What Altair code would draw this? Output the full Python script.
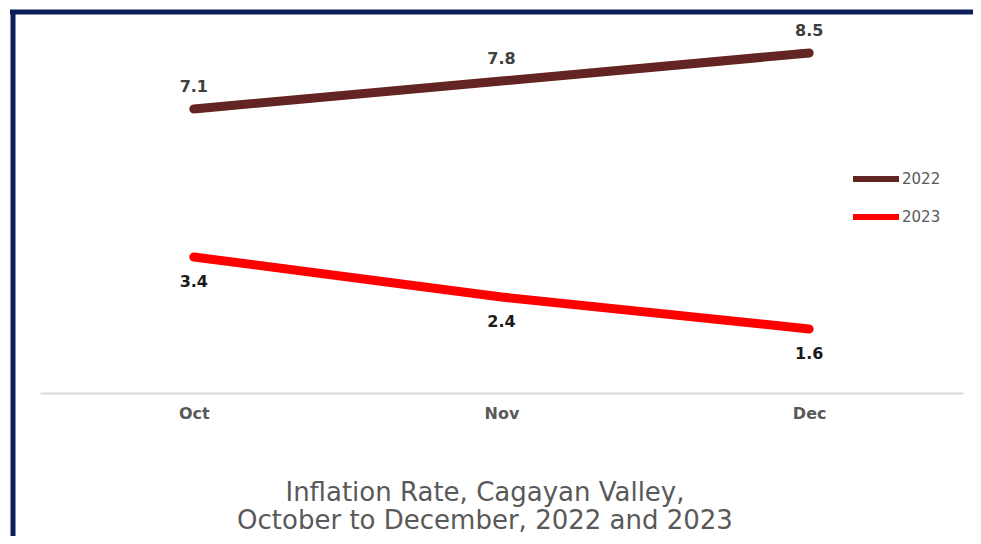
import altair as alt
import pandas as pd

months = ["Oct", "Nov", "Dec"]
series_2022 = [7.1, 7.8, 8.5]
series_2023 = [3.4, 2.4, 1.6]
years = ["2022", "2023"]
colors = ["#632523", "#FF0000"]
title_lines = ["Inflation Rate, Cagayan Valley,", "October to December, 2022 and 2023"]

rows = []
for m, v in zip(months, series_2022):
    rows.append({"month": m, "year": "2022", "value": v, "label": f"{v:.1f}"})
for m, v in zip(months, series_2023):
    rows.append({"month": m, "year": "2023", "value": v, "label": f"{v:.1f}"})
df = pd.DataFrame(rows)

FONT = "DejaVu Sans"

x = alt.X("month:N", sort=months, title=None,
          scale=alt.Scale(type="point", padding=0.5),
          axis=alt.Axis(labelAngle=0, ticks=False, domainColor="#D9D9D9",
                        domainWidth=2, labelFontSize=16, labelFontWeight="bold",
                        labelColor="#595959", labelFont=FONT, labelPadding=12))
y = alt.Y("value:Q", scale=alt.Scale(domain=[0, 9.5], nice=False, zero=True), axis=None)

base = alt.Chart(df)

lines = base.mark_line(strokeWidth=9, strokeCap="round", strokeJoin="round").encode(
    x=x, y=y,
    color=alt.Color("year:N", scale=alt.Scale(domain=years, range=colors),
                    legend=alt.Legend(title=None, orient="none", legendX=810, legendY=140,
                                      symbolType="stroke", symbolSize=2116,
                                      symbolStrokeWidth=6, labelFontSize=15,
                                      labelColor="#595959", labelFont=FONT,
                                      labelOffset=0, rowPadding=-16)),
)

lab22 = base.transform_filter(alt.datum.year == "2022").mark_text(
    dy=-22, fontSize=16, fontWeight="bold", color="#404040", font=FONT
).encode(x=x, y=y, text="label:N")

lab23 = base.transform_filter(alt.datum.year == "2023").mark_text(
    dy=25, fontSize=16, fontWeight="bold", color="#1A1A1A", font=FONT
).encode(x=x, y=y, text="label:N")

frame_top = alt.Chart(pd.DataFrame({"k": [0]})).mark_rule(
    color="#0B1F5C", strokeWidth=5, clip=False
).encode(x=alt.value(-30), x2=alt.value(960), y=alt.value(-1))

frame_left = alt.Chart(pd.DataFrame({"k": [0]})).mark_rule(
    color="#0B1F5C", strokeWidth=5, clip=False
).encode(x=alt.value(-27), y=alt.value(-3), y2=alt.value(540))

tdf = pd.DataFrame({"line": title_lines, "row": [0, 1]})
title1 = alt.Chart(tdf).transform_filter(alt.datum.row == 0).mark_text(
    fontSize=26, color="#595959", font=FONT, baseline="middle", align="center"
).encode(text="line:N", x=alt.value(445), y=alt.value(480))
title2 = alt.Chart(tdf).transform_filter(alt.datum.row == 1).mark_text(
    fontSize=26, color="#595959", font=FONT, baseline="middle", align="center"
).encode(text="line:N", x=alt.value(445), y=alt.value(508))

chart = alt.layer(frame_top, frame_left, lines, lab22, lab23, title1, title2).properties(
    width=923, height=380,
    autosize=alt.AutoSizeParams(type="none"),
    padding={"left": 32, "top": 5, "right": 10, "bottom": 143},
).configure(background="white").configure_view(stroke=None)

chart.save("out.html", embed_options={"renderer": "svg", "actions": False})
